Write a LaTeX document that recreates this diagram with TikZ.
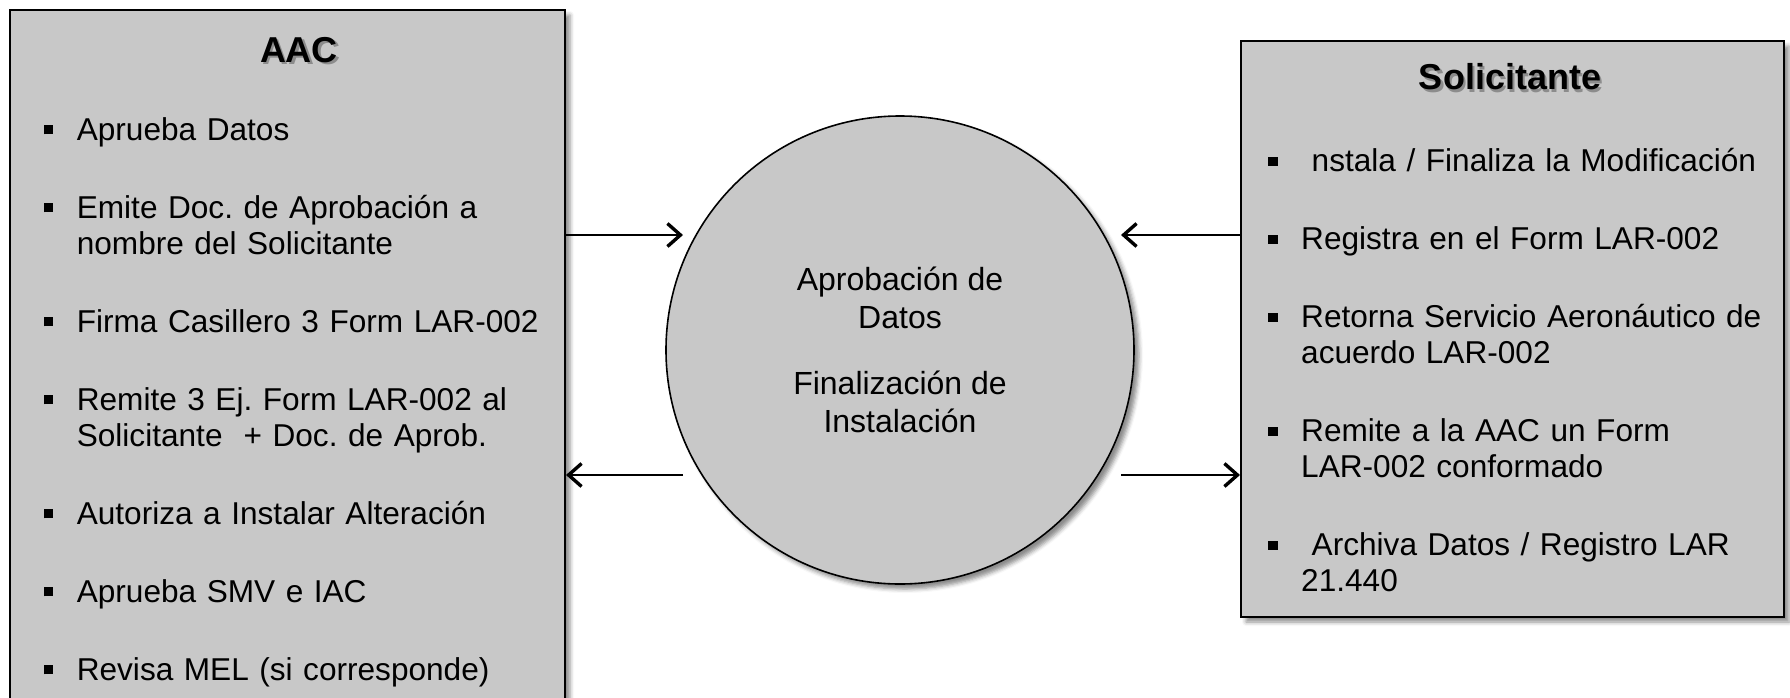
\documentclass[tikz,border=0pt]{standalone}
\usepackage{fontspec}
\setmainfont{Liberation Sans}
\usepackage{xcolor}
\usetikzlibrary{arrows.meta}
\usetikzlibrary{shadows.blur}
\usetikzlibrary{positioning}

\definecolor{grisfondo}{RGB}{200,200,200}
\newcommand{\vineta}{\makebox[16.4pt][l]{\rule[3pt]{4.6pt}{4.6pt}}}
\newcommand{\punto}[1]{\hangindent=16.4pt\hangafter=1\noindent\vineta\rule{0pt}{14pt}#1\par}
\newcommand{\sombra}[1]{\makebox[0pt][l]{\hspace{1.3pt}\raisebox{-1.3pt}{\textcolor{black!45}{#1}}}#1}

\begin{document}
\begin{tikzpicture}[x=1pt,y=-1pt,
	caja/.style={draw=black,line width=1pt,fill=grisfondo,
		blur shadow={shadow xshift=2.5pt,shadow yshift=-2.5pt,shadow blur radius=2pt,shadow opacity=45}},
	titulo/.style={inner sep=0pt,font=\fontsize{18}{21}\selectfont\bfseries},
	lista/.style={inner sep=0pt,anchor=north west,text width=265pt,align=left,
		font=\fontsize{15.8}{18}\selectfont\frenchspacing,
		execute at begin node={\setlength{\parskip}{21pt}}},
	flecha/.style={line width=0.9pt,-{Straight Barb[length=6.5pt,width=11.5pt,line width=1.7pt]}}]
	\useasboundingbox (0,0) rectangle (895,348.5);
	\clip (0,0) rectangle (895,348.5);

	% marcos
	\node[caja,anchor=north west,minimum width=277.5pt,minimum height=400pt] (aac) at (4.5,4.5) {};
	\node[caja,anchor=north west,minimum width=271.5pt,minimum height=288pt] (sol) at (620,20) {};
	\node[caja,circle,line width=0.8pt,minimum size=234pt,align=center,
		font=\fontsize{16}{19}\selectfont] (proc) at (450,175)
		{Aprobación de\\Datos\\[14pt]Finalización de\\Instalación};

	% titulos
	\node[titulo] (aactit) at (149.5,25.5) {\sombra{AAC}};
	\node[titulo] (soltit) at (755,39) {\sombra{Solicitante}};

	% listas
	\node[lista] (aaclst) at (21.8,56) {%
		\punto{Aprueba Datos}%
		\punto{Emite Doc. de Aprobación a\newline nombre del Solicitante}%
		\punto{Firma Casillero 3 Form LAR-002}%
		\punto{Remite 3 Ej. Form LAR-002 al\newline Solicitante\ \ + Doc. de Aprob.}%
		\punto{Autoriza a Instalar Alteración}%
		\punto{Aprueba SMV e IAC}%
		\punto{Revisa MEL (si corresponde)}%
	};
	\node[lista] (sollst) at (634,71.7) {%
		\punto{\ nstala / Finaliza la Modificación}%
		\punto{Registra en el Form LAR-002}%
		\punto{Retorna Servicio Aeronáutico de\newline acuerdo LAR-002}%
		\punto{Remite a la AAC un Form\newline LAR-002 conformado}%
		\punto{\ Archiva Datos / Registro LAR\newline 21.440}%
	};

	% flechas
	\coordinate (ai) at (341.5,117.5);
	\coordinate (bi) at (341.5,237.5);
	\coordinate (ad) at (560.5,117.5);
	\coordinate (bd) at (560.5,237.5);
	\draw[flecha] (aac.east |- ai) -- (ai);
	\draw[flecha] (bi) -- (aac.east |- bi);
	\draw[flecha] (sol.west |- ad) -- (ad);
	\draw[flecha] (bd) -- (sol.west |- bd);
\end{tikzpicture}
\end{document}
